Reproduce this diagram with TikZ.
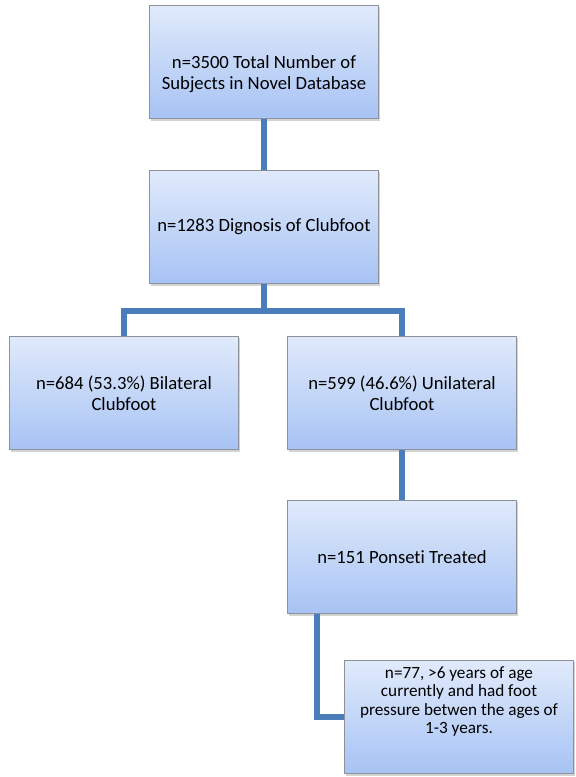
\documentclass[tikz,border=0pt]{standalone}
\usepackage{fontspec}
\setmainfont[Ligatures=NoCommon]{Carlito}
\usetikzlibrary{shadows}
\definecolor{linkblue}{HTML}{4A7EBB}
\definecolor{boxtop}{HTML}{E0EAFB}
\definecolor{boxbot}{HTML}{A7C3F4}
\definecolor{boxrim}{HTML}{8E9199}
\tikzset{
  box/.style={draw=boxrim, line width=0.6pt, top color=boxtop, bottom color=boxbot,
    minimum width=172pt, minimum height=85pt, inner sep=2pt, align=center,
    font=\fontsize{14}{16}\selectfont,
    drop shadow={shadow xshift=1pt, shadow yshift=-1.5pt, opacity=0.35}},
  smallbox/.style={box, font=\fontsize{12.9}{13.6}\selectfont},
  link/.style={draw=linkblue, line width=3.8pt}
}
\begin{document}
\begin{tikzpicture}[x=0.75pt,y=-0.75pt]
  \useasboundingbox (0,0) rectangle (575,777);
  % boxes
  \node[box] (total) at (264,62) {\smash{\raisebox{-13pt}{\begin{tabular}{@{}c@{}}n=3500 Total Number of\\Subjects in Novel Database\end{tabular}}}};
  \node[box] (diag) at (264,227) {n=1283 Dignosis of Clubfoot};
  \node[box] (bilat) at (124,393) {n=684 (53.3\%) Bilateral\\Clubfoot};
  \node[box] (unilat) at (402,393) {n=599 (46.6\%) Unilateral\\Clubfoot};
  \node[box] (ponseti) at (402,557) {n=151 Ponseti Treated};
  \node[smallbox] (final) at (459,717) {\parbox[c][81pt][t]{168pt}{\centering\vspace*{3pt}n=77, >6 years of age\\currently and had foot\\pressure betwen the ages of\\1-3 years.}};

  % connectors
  \draw[link] (total.south) -- (diag.north);
  \coordinate (split) at (264,311);
  \draw[link] (diag.south) -- (split);
  \draw[link] (bilat.north) |- (split) -| (unilat.north);
  \draw[link] (unilat.south) -- (ponseti.north);
  \draw[link] ([xshift=-63.75pt]ponseti.south) |- (final.west);
\end{tikzpicture}
\end{document}
